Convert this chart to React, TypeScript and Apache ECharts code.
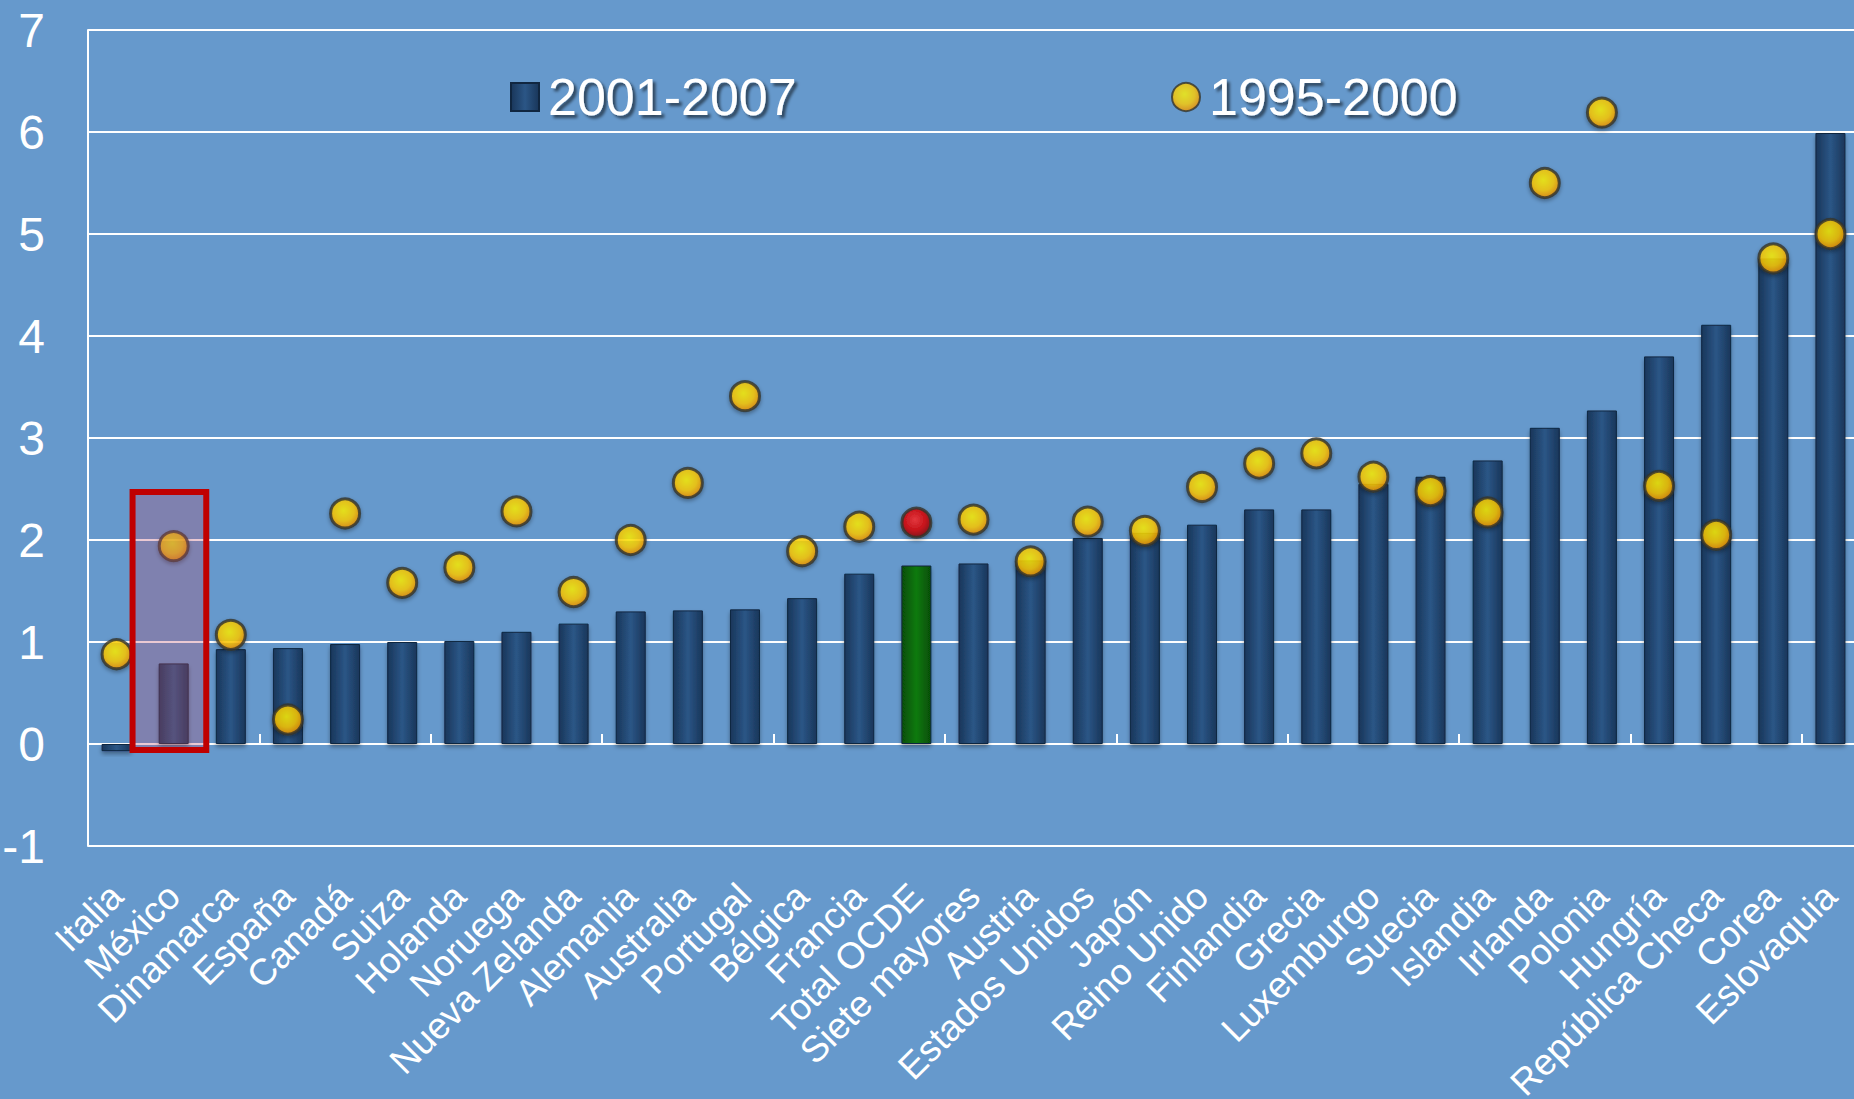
import React, { useEffect, useRef } from "react";
import * as echarts from "echarts";

const categories = [
  "Italia", "México", "Dinamarca", "España", "Canadá", "Suiza", "Holanda", "Noruega",
  "Nueva Zelanda", "Alemania", "Australia", "Portugal", "Bélgica", "Francia", "Total OCDE",
  "Siete mayores", "Austria", "Estados Unidos", "Japón", "Reino Unido", "Finlandia", "Grecia",
  "Luxemburgo", "Suecia", "Islandia", "Irlanda", "Polonia", "Hungría", "República Checa",
  "Corea", "Eslovaquia",
];

const values2001_2007 = [
  -0.07, 0.79, 0.93, 0.94, 0.98, 1.0, 1.01, 1.1,
  1.18, 1.3, 1.31, 1.32, 1.43, 1.67, 1.75,
  1.77, 1.8, 2.02, 2.07, 2.15, 2.3, 2.3,
  2.55, 2.62, 2.78, 3.1, 3.27, 3.8, 4.11,
  4.76, 5.99,
];

const values1995_2000 = [
  0.88, 1.94, 1.07, 0.24, 2.26, 1.58, 1.73, 2.28,
  1.49, 2.0, 2.56, 3.41, 1.89, 2.13, 2.17,
  2.2, 1.79, 2.18, 2.09, 2.52, 2.75, 2.85,
  2.62, 2.48, 2.27, 5.5, 6.19, 2.53, 2.05,
  4.76, 5.0,
];

const seriesNames = ["2001-2007", "1995-2000"];
const yMin = -1;
const yMax = 7;
const yInterval = 1;
const totalCategory = "Total OCDE";
const highlightCategory = "México";
const highlightTop = 2.47;
const highlightBottom = -0.06;

const FONT = "'Liberation Sans', Arial, sans-serif";

const barGradient = new echarts.graphic.LinearGradient(0, 0, 1, 0, [
  { offset: 0, color: "#19365a" },
  { offset: 0.5, color: "#2b5686" },
  { offset: 1, color: "#19365a" },
]);
const greenGradient = new echarts.graphic.LinearGradient(0, 0, 1, 0, [
  { offset: 0, color: "#064e06" },
  { offset: 0.5, color: "#0b7a0b" },
  { offset: 1, color: "#064e06" },
]);
const yellowGradient = new echarts.graphic.RadialGradient(0.45, 0.4, 0.6, [
  { offset: 0, color: "#fff200" },
  { offset: 0.6, color: "#ffcc00" },
  { offset: 1, color: "#f09000" },
]);
const redGradient = new echarts.graphic.RadialGradient(0.45, 0.4, 0.6, [
  { offset: 0, color: "#ff2a2a" },
  { offset: 0.6, color: "#dd0000" },
  { offset: 1, color: "#900000" },
]);

export default function App() {
  const ref = useRef<HTMLDivElement>(null);

  useEffect(() => {
    if (!ref.current) return;
    const chart = echarts.init(ref.current, null, { renderer: "svg" });

    const barData = values2001_2007.map((v, i) =>
      categories[i] === totalCategory
        ? { value: v, itemStyle: { color: greenGradient } }
        : v
    );
    const dotData = values1995_2000.map((v, i) =>
      categories[i] === totalCategory
        ? { value: v, itemStyle: { color: redGradient } }
        : v
    );

    const legendText = {
      color: "#ffffff",
      fontSize: 52,
      fontFamily: FONT,
      textShadowColor: "rgba(0,0,0,0.55)",
      textShadowBlur: 3,
      textShadowOffsetX: 3,
      textShadowOffsetY: 3,
      padding: [0, 0, 0, 4],
    };

    chart.setOption({
      animation: false,
      backgroundColor: "#6699cc",
      textStyle: { fontFamily: FONT },
      legend: [
        {
          data: [{ name: seriesNames[0], icon: "rect" }],
          left: 505,
          top: 66,
          itemWidth: 28,
          itemHeight: 28,
          textStyle: legendText,
        },
        {
          data: [{ name: seriesNames[1], icon: "circle" }],
          left: 1166,
          top: 66,
          itemWidth: 28,
          itemHeight: 28,
          textStyle: legendText,
        },
      ],
      grid: {
        left: 88,
        top: 30,
        bottom: 253,
        right: -5,
        containLabel: false,
        outerBoundsMode: "none",
      },
      xAxis: [
        {
          type: "category",
          data: categories,
          position: "bottom",
          axisLine: { show: false, onZero: false },
          axisTick: { show: false },
          axisLabel: {
            rotate: 45,
            color: "#ffffff",
            fontSize: 37,
            fontFamily: FONT,
            margin: 44,
            interval: 0,
          },
        },
        {
          type: "category",
          data: categories,
          position: "top",
          axisLine: { show: true, onZero: true, lineStyle: { color: "#ffffff", width: 2 } },
          axisTick: { show: true, inside: false, length: 10, lineStyle: { color: "#ffffff", width: 2 } },
          axisLabel: { show: false },
        },
      ],
      yAxis: {
        type: "value",
        min: yMin,
        max: yMax,
        interval: yInterval,
        axisLine: { show: true, lineStyle: { color: "#ffffff", width: 2 } },
        axisTick: { show: false },
        splitLine: { show: true, lineStyle: { color: "#ffffff", width: 2 } },
        axisLabel: { color: "#ffffff", fontSize: 48, fontFamily: FONT, margin: 43 },
      },
      series: [
        {
          name: seriesNames[0],
          type: "bar",
          xAxisIndex: 0,
          data: barData,
          barWidth: 30,
          itemStyle: {
            color: barGradient,
            borderColor: "#102640",
            borderWidth: 1,
            shadowColor: "rgba(0,0,0,0.35)",
            shadowBlur: 4,
            shadowOffsetY: 3,
          },
          z: 3,
        },
        {
          name: seriesNames[1],
          type: "scatter",
          xAxisIndex: 0,
          data: dotData,
          symbol: "circle",
          symbolSize: 29,
          itemStyle: {
            color: yellowGradient,
            borderColor: "#35342a",
            borderWidth: 3,
            shadowColor: "rgba(0,0,0,0.4)",
            shadowBlur: 4,
            shadowOffsetY: 2,
          },
          z: 4,
        },
      ],
    });

    const cx = chart.convertToPixel({ xAxisIndex: 0 }, highlightCategory) as number;
    const cx2 = chart.convertToPixel({ xAxisIndex: 0 }, categories[categories.indexOf(highlightCategory) + 1]) as number;
    const band = cx2 - cx;
    const yTop = chart.convertToPixel({ yAxisIndex: 0 }, highlightTop) as number;
    const yBot = chart.convertToPixel({ yAxisIndex: 0 }, highlightBottom) as number;

    chart.setOption({
      graphic: [
        {
          type: "rect",
          z: 100,
          shape: { x: cx - 0.72 * band, y: yTop, width: 1.29 * band, height: yBot - yTop },
          style: { fill: "rgba(185,76,110,0.3)", stroke: "#c00000", lineWidth: 6 },
        },
      ],
    });

    return () => chart.dispose();
  }, []);

  return (
    <div
      ref={ref}
      style={{ position: "fixed", left: 0, top: 0, width: 1854, height: 1099 }}
    />
  );
}
